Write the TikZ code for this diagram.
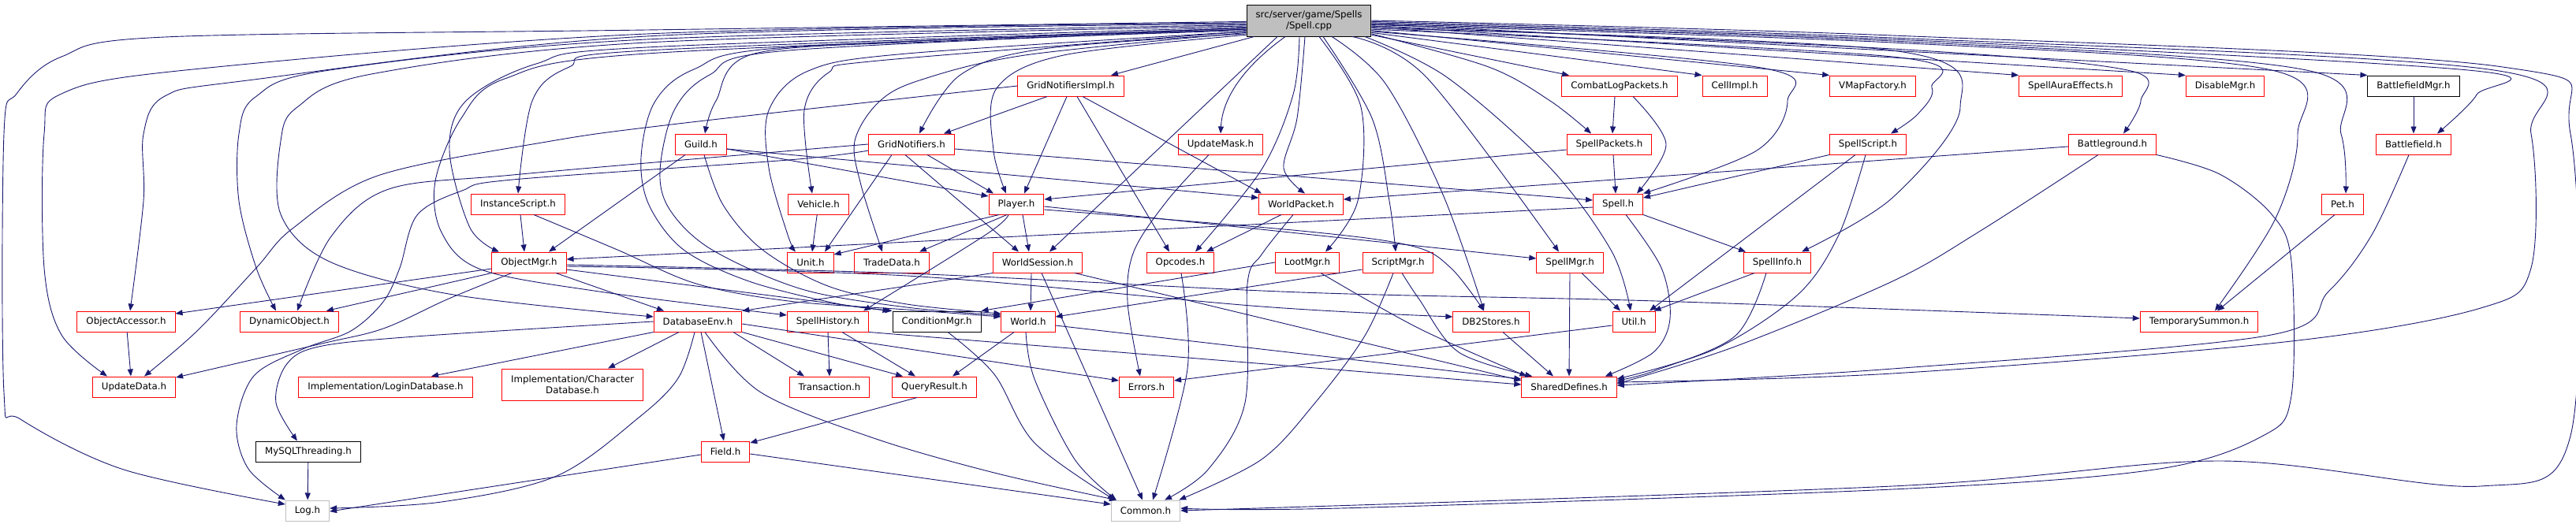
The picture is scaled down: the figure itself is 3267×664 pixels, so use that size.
\documentclass[tikz,border=0pt]{standalone}
\usepackage{fontspec}
\setmainfont{DejaVu Sans}
\usetikzlibrary{arrows.meta}
\definecolor{edgeblue}{RGB}{25,25,112}
\definecolor{rootgray}{RGB}{191,191,191}

\begin{document}
\begin{tikzpicture}[x=1pt, y=-1pt,
    hdr/.style={draw=red, fill=white, line width=1pt, minimum height=26pt, inner xsep=11.5pt, inner ysep=2pt, font=\fontsize{11.8}{14}\selectfont},
    hdrok/.style={hdr, draw=black},
    hdrsys/.style={hdr, draw=rootgray},
    hdrroot/.style={hdr, draw=black, fill=rootgray, align=center, minimum height=40pt},
    incl/.style={draw=edgeblue, line width=0.9pt, -{Triangle[length=9pt,width=7pt]}},
    sm/.style={smooth, tension=.55}]
    \useasboundingbox (0,0) rectangle (3267,664);

    \node[hdrroot] (SpellCpp) at (1660,26) {src/server/game/Spells\\/Spell.cpp};

    \node[hdr] (GridNotifiersImpl) at (1358,109) {GridNotifiersImpl.h};
    \node[hdr] (CombatLogPackets) at (2054,109) {CombatLogPackets.h};
    \node[hdr] (CellImpl) at (2200,109) {CellImpl.h};
    \node[hdr] (VMapFactory) at (2375,109) {VMapFactory.h};
    \node[hdr] (SpellAuraEffects) at (2626,109) {SpellAuraEffects.h};
    \node[hdr] (DisableMgr) at (2822,109) {DisableMgr.h};
    \node[hdrok] (BattlefieldMgr) at (3061,109) {BattlefieldMgr.h};

    \node[hdr] (Guild) at (889,183) {Guild.h};
    \node[hdr] (GridNotifiers) at (1156,183) {GridNotifiers.h};
    \node[hdr] (UpdateMask) at (1548,183) {UpdateMask.h};
    \node[hdr] (SpellPackets) at (2041,183) {SpellPackets.h};
    \node[hdr] (SpellScript) at (2369,183) {SpellScript.h};
    \node[hdr] (Battleground) at (2679,183) {Battleground.h};
    \node[hdr] (Battlefield) at (3061,183) {Battlefield.h};

    \node[hdr] (InstanceScript) at (657,259) {InstanceScript.h};
    \node[hdr] (Vehicle) at (1038,259) {Vehicle.h};
    \node[hdr] (Player) at (1289,259) {Player.h};
    \node[hdr] (WorldPacket) at (1650,259) {WorldPacket.h};
    \node[hdr] (SpellH) at (2052,259) {Spell.h};
    \node[hdr] (Pet) at (2971,259) {Pet.h};

    \node[hdr] (ObjectMgr) at (671,333) {ObjectMgr.h};
    \node[hdr] (Unit) at (1028,333) {Unit.h};
    \node[hdr] (TradeData) at (1131,333) {TradeData.h};
    \node[hdr] (WorldSession) at (1316,333) {WorldSession.h};
    \node[hdr] (Opcodes) at (1497,333) {Opcodes.h};
    \node[hdr] (LootMgr) at (1658,333) {LootMgr.h};
    \node[hdr] (ScriptMgr) at (1773,333) {ScriptMgr.h};
    \node[hdr] (SpellMgr) at (1991,333) {SpellMgr.h};
    \node[hdr] (SpellInfo) at (2254,333) {SpellInfo.h};

    \node[hdr] (ObjectAccessor) at (160,408) {ObjectAccessor.h};
    \node[hdr] (DynamicObject) at (367,408) {DynamicObject.h};
    \node[hdr] (DatabaseEnv) at (885,408) {DatabaseEnv.h};
    \node[hdr] (SpellHistory) at (1050,408) {SpellHistory.h};
    \node[hdrok] (ConditionMgr) at (1188,408) {ConditionMgr.h};
    \node[hdr] (World) at (1304,408) {World.h};
    \node[hdr] (DBStores) at (1891,408) {DB2Stores.h};
    \node[hdr] (Util) at (2072,408) {Util.h};
    \node[hdr] (TemporarySummon) at (2789,408) {TemporarySummon.h};

    \node[hdr] (UpdateData) at (170,491) {UpdateData.h};
    \node[hdr] (LoginDatabase) at (489,491) {Implementation/LoginDatabase.h};
    \node[hdr, align=center, minimum height=40pt] (CharacterDatabase) at (726,488) {Implementation/Character\\Database.h};
    \node[hdr] (Transaction) at (1052,491) {Transaction.h};
    \node[hdr] (QueryResult) at (1185,491) {QueryResult.h};
    \node[hdr] (Errors) at (1454,491) {Errors.h};
    \node[hdr] (SharedDefines) at (1990,491) {SharedDefines.h};

    \node[hdrok] (MySQLThreading) at (391,573) {MySQLThreading.h};
    \node[hdr] (Field) at (920,573) {Field.h};

    \node[hdrsys] (Log) at (390,648) {Log.h};
    \node[hdrsys] (Common) at (1453,648) {Common.h};

    % Spell.cpp, left side
    \draw[incl] plot[sm] coordinates {(SpellCpp.181) (820,38) (209,47) (78,72) (21,119) (5,170) (5,498) (26,532) (157,596) ([yshift=8pt]Log.west)};
    \draw[incl] plot[sm] coordinates {(SpellCpp.182) (820,43) (235,89) (78,119) (56,170) (56,340) (78,425) ([xshift=-34pt]UpdateData.north)};
    \draw[incl] plot[sm] coordinates {(SpellCpp.183) (820,46) (314,102) (209,122) (182,170) (182,255) ([xshift=5pt]ObjectAccessor.north)};
    \draw[incl] plot[sm] coordinates {(SpellCpp.184) (820,50) (418,89) (324,123) (303,170) (303,255) (325,340) ([xshift=-17pt]DynamicObject.north)};
    \draw[incl] plot[sm] coordinates {(SpellCpp.185) (820,54) (471,94) (377,136) (356,179) (356,272) (418,332) (575,374) ([yshift=6pt]DatabaseEnv.west)};
    \draw[incl] plot[sm] coordinates {(SpellCpp.186) (820,60) (680,81) (591,128) (570,191) (596,289) ([xshift=-38pt]ObjectMgr.north)};
    \draw[incl] plot[sm] coordinates {(SpellCpp.187) (820,64) (722,85) (675,128) (InstanceScript.north)};
    \draw[incl] plot[sm] coordinates {(SpellCpp.187) (820,68) (640,100) (585,150) (552,230) (560,295) (610,342) (760,370) ([yshift=8pt]SpellHistory.west)};
    \draw[incl] plot[sm] coordinates {(SpellCpp.188) (1000,60) (880,88) (830,130) (813,200) (823,260) (867,317) (950,357) (1060,385) (ConditionMgr.north west)};
    \draw[incl] plot[sm] coordinates {(SpellCpp.188) (1000,64) (900,95) (855,140) (837,217) (850,267) (903,317) (1017,367) (1150,390) ([yshift=8pt]World.west)};
    \draw[incl] plot[sm] coordinates {(SpellCpp.189) (1200,52) (957,68) (908,128) ([xshift=5pt]Guild.north)};
    \draw[incl] plot[sm] coordinates {(SpellCpp.190) (1114,77) (1051,92) (1020,140) ([xshift=-8pt]Vehicle.north)};
    \draw[incl] plot[sm] coordinates {(SpellCpp.190) (1150,68) (1025,90) (975,140) (975,213) (999,298) ([xshift=-19pt]Unit.north)};
    \draw[incl] plot[sm] coordinates {(SpellCpp.191) (1300,70) (1166,102) (1114,130) (1084,179) (1092,235) ([xshift=-12pt]TradeData.north)};
    \draw[incl] plot[sm] coordinates {(SpellCpp.192) (1323,62) (1218,95) ([xshift=10pt]GridNotifiers.north)};
    \draw[incl] plot[sm] coordinates {(SpellCpp.193) (1349,70) (1264,112) (1260,191) ([xshift=-13pt]Player.north)};

    % Spell.cpp, below
    \draw[incl] ([xshift=10pt]SpellCpp.south west) -- ([xshift=51pt]GridNotifiersImpl.north);
    \draw[incl] ([xshift=-40pt]SpellCpp.south) -- ([xshift=15pt]WorldSession.north);
    \draw[incl] ([xshift=-30pt]SpellCpp.south) .. controls (1570,90) and (1550,130) .. (UpdateMask.north);
    \draw[incl] plot[sm] coordinates {([xshift=-12pt]SpellCpp.south) (1640,120) (1600,215) ([xshift=19pt]Opcodes.north)};
    \draw[incl] plot[sm] coordinates {([xshift=-5pt]SpellCpp.south) (1645,150) (1628,213) ([xshift=5pt]WorldPacket.north)};
    \draw[incl] plot[sm] coordinates {([xshift=13pt]SpellCpp.south) (1726,136) (1722,255) ([xshift=23pt]LootMgr.north)};
    \draw[incl] plot[sm] coordinates {([xshift=18pt]SpellCpp.south) (1740,150) (1762,255) ([xshift=-3pt]ScriptMgr.north)};
    \draw[incl] plot[sm] coordinates {([xshift=29pt]SpellCpp.south) (1757,106) (1830,247) ([xshift=-9pt]DBStores.north)};
    \draw[incl] plot[sm] coordinates {([xshift=55pt]SpellCpp.south) (1809,98) ([xshift=-14pt]SpellMgr.north)};
    \draw[incl] plot[sm] coordinates {([xshift=71pt]SpellCpp.south) (1835,98) (1966,213) (2044,319) ([xshift=-4pt]Util.north)};

    % Spell.cpp, right side
    \draw[incl] (SpellCpp.347) -- ([xshift=-64pt]CombatLogPackets.north);
    \draw[incl] (SpellCpp.349) -- (CellImpl.north west);
    \draw[incl] (SpellCpp.351) -- (VMapFactory.north west);
    \draw[incl] (SpellCpp.354) -- (SpellAuraEffects.north west);
    \draw[incl] (SpellCpp.355) -- (DisableMgr.north west);
    \draw[incl] (SpellCpp.357) -- (BattlefieldMgr.north west);
    \draw[incl] plot[sm] coordinates {(SpellCpp.348) (1888,85) (1966,128) ([xshift=-23pt]SpellPackets.north)};
    \draw[incl] plot[sm] coordinates {(SpellCpp.350) (2228,85) (2267,128) (2228,191) (SpellH.north east)};
    \draw[incl] plot[sm] coordinates {(SpellCpp.352) (2400,72) (2450,111) (2432,145) ([xshift=29pt]SpellScript.north)};
    \draw[incl] plot[sm] coordinates {(SpellCpp.353) (2400,64) (2486,136) (2400,251) ([xshift=31pt]SpellInfo.north)};
    \draw[incl] plot[sm] coordinates {(SpellCpp.355) (2400,62) (2698,89) (2715,128) ([xshift=14pt]Battleground.north)};
    \draw[incl] plot[sm] coordinates {(SpellCpp.356) (2400,54) (2881,89) (2914,170) (2886,277) ([xshift=20pt]TemporarySummon.north)};
    \draw[incl] plot[sm] coordinates {(SpellCpp.357) (2400,52) (2925,89) (2969,170) ([xshift=4pt]Pet.north)};
    \draw[incl] plot[sm] coordinates {(SpellCpp.358) (2400,50) (3130,89) (3141,120) ([xshift=30pt]Battlefield.north)};
    \draw[incl] plot[sm] coordinates {(SpellCpp.359) (2400,48) (3163,89) (3210,170) (3210,340) (3146,391) (2897,434) (2400,474) ([yshift=6pt]SharedDefines.east)};
    \draw[incl] plot[sm] coordinates {(SpellCpp.east) (2400,45) (3174,85) (3260,170) (3260,553) (3146,617) (2815,585) (2400,617) (Common.east)};

    % GridNotifiersImpl.h, GridNotifiers.h, Guild.h
    \draw[incl] ([xshift=-30pt]GridNotifiersImpl.south) -- ([xshift=41pt]GridNotifiers.north);
    \draw[incl] ([xshift=-5pt]GridNotifiersImpl.south) -- ([xshift=10pt]Player.north);
    \draw[incl] ([xshift=8pt]GridNotifiersImpl.south) -- ([xshift=-14pt]Opcodes.north);
    \draw[incl] ([xshift=15pt]GridNotifiersImpl.south) -- ([xshift=-50pt]WorldPacket.north);
    \draw[incl] plot[sm] coordinates {(GridNotifiersImpl.west) (860,157) (693,180) (479,223) (371,290) (325,340) (250,420) ([xshift=13pt]UpdateData.north)};
    \draw[incl] ([xshift=20pt]GridNotifiers.south) -- ([xshift=-29pt]Player.north);
    \draw[incl] ([xshift=-25pt]GridNotifiers.south) -- ([xshift=18pt]Unit.north);
    \draw[incl] ([xshift=-8pt]GridNotifiers.south) -- ([xshift=-24pt]WorldSession.north);
    \draw[incl] ([yshift=-6pt]GridNotifiers.east) -- ([yshift=5pt]SpellH.west);
    \draw[incl] plot[sm] coordinates {(GridNotifiers.west) (983,193) (650,222) (493,240) (420,300) ([xshift=10pt]DynamicObject.north)};
    \draw[incl] plot[sm] coordinates {([yshift=-8pt]GridNotifiers.west) (1000,203) (650,228) (586,242) (529,273) (507,340) (486,383) (445,420) (384,443) (322,477) (300,540) (315,595) (Log.north west)};
    \draw[incl] ([yshift=-6pt]Guild.east) -- ([yshift=10pt]Player.west);
    \draw[incl] ([yshift=-6pt]Guild.east) -- ([yshift=8pt]WorldPacket.west);
    \draw[incl] ([xshift=-20pt]Guild.south) -- ([xshift=25pt]ObjectMgr.north);
    \draw[incl] plot[sm] coordinates {([xshift=4pt]Guild.south) (917,260) (967,317) (1050,363) (1150,386) ([yshift=10pt]World.west)};

    % Player.h, WorldSession.h, Vehicle.h, InstanceScript.h
    \draw[incl] ([xshift=-22pt]Player.south) -- ([yshift=10pt]Unit.east);
    \draw[incl] ([xshift=-12pt]Player.south) -- ([xshift=35pt]TradeData.north);
    \draw[incl] ([xshift=8pt]Player.south) -- ([xshift=-11pt]WorldSession.north);
    \draw[incl] plot[sm] coordinates {([xshift=-10pt]Player.south) (1250,298) ([xshift=45pt]SpellHistory.north)};
    \draw[incl] ([yshift=-3pt]Player.east) -- ([yshift=5pt]SpellMgr.west);
    \draw[incl] plot[sm] coordinates {([yshift=-7pt]Player.east) (1650,293) (1790,312) (1840,340) ([xshift=-9pt]DBStores.north)};
    \draw[incl] (WorldSession.south west) -- (DatabaseEnv.north east);
    \draw[incl] ([xshift=-8pt]WorldSession.south) -- ([xshift=3pt]World.north);
    \draw[incl] plot[sm] coordinates {([xshift=5pt]WorldSession.south) (1375,468) ([xshift=-4pt]Common.north)};
    \draw[incl] ([xshift=-10pt]WorldSession.south east) -- ([yshift=8pt]SharedDefines.west);
    \draw[incl] (Vehicle) -- ([xshift=2pt]Unit.north);
    \draw[incl] ([xshift=3pt]InstanceScript.south) -- ([xshift=-6pt]ObjectMgr.north);
    \draw[incl] plot[sm] coordinates {([xshift=20pt]InstanceScript.south) (783,317) (883,360) (1000,382) (1150,393) ([yshift=6pt]World.west)};

    % ObjectMgr.h
    \draw[incl] ([yshift=-8pt]ObjectMgr.west) -- ([yshift=10pt]ObjectAccessor.east);
    \draw[incl] (ObjectMgr.south west) -- ([xshift=-16pt]DynamicObject.north east);
    \draw[incl] plot[sm] coordinates {([xshift=-22pt]ObjectMgr.south) (567,380) (486,417) (404,437) ([yshift=12pt]UpdateData.east)};
    \draw[incl] ([xshift=34pt]ObjectMgr.south) -- ([xshift=-43pt]DatabaseEnv.north);
    \draw[incl] ([yshift=-9pt]ObjectMgr.east) -- ([xshift=-3pt]ConditionMgr.north west);
    \draw[incl] plot[sm] coordinates {([yshift=-5pt]ObjectMgr.east) (1150,350) (1600,389) ([yshift=6pt]DBStores.west)};
    \draw[incl] plot[sm] coordinates {([yshift=-3pt]ObjectMgr.east) (1150,347) (1650,371) (2100,382) ([yshift=4pt]TemporarySummon.west)};
    \draw[incl] (ObjectAccessor) -- ([xshift=-4pt]UpdateData.north);

    % DatabaseEnv.h and below
    \draw[incl] plot[sm] coordinates {([xshift=-4pt]DatabaseEnv.south) (860,480) (810,530) (706,604) (560,637) ([yshift=3pt]Log.east)};
    \draw[incl] plot[sm] coordinates {(DatabaseEnv.west) (527,427) (404,440) (363,463) (350,511) ([xshift=-14pt]MySQLThreading.north)};
    \draw[incl] (DatabaseEnv.south west) -- ([xshift=58pt]LoginDatabase.north);
    \draw[incl] ([xshift=-24pt]DatabaseEnv.south) -- ([xshift=45pt]CharacterDatabase.north);
    \draw[incl] ([xshift=4pt]DatabaseEnv.south) -- ([xshift=-2pt]Field.north);
    \draw[incl] plot[sm] coordinates {([xshift=9pt]DatabaseEnv.south) (965,498) (1108,556) (1261,600) ([xshift=7pt]Common.north west)};
    \draw[incl] ([xshift=45pt]DatabaseEnv.south) -- ([xshift=-32pt]Transaction.north);
    \draw[incl] (DatabaseEnv.south east) -- ([xshift=-40pt]QueryResult.north);
    \draw[incl] ([yshift=-3pt]DatabaseEnv.east) -- ([yshift=8pt]Errors.west);
    \draw[incl] (SpellHistory.south) -- (Transaction.north);
    \draw[incl] ([xshift=18pt]SpellHistory.south) -- ([xshift=-24pt]QueryResult.north);
    \draw[incl] (SpellHistory.south east) -- ([yshift=3pt]SharedDefines.west);
    \draw[incl] ([xshift=-18pt]World.south) -- ([xshift=23pt]QueryResult.north);
    \draw[incl] plot[sm] coordinates {([xshift=-3pt]World.south) (1312,481) (1363,583) ([xshift=7pt]Common.north west)};
    \draw[incl] ([yshift=-5pt]World.east) -- ([yshift=10pt]SharedDefines.west);
    \draw[incl] plot[sm] coordinates {([xshift=14pt]ConditionMgr.south) (1261,475) (1312,562) ([xshift=5pt]Common.north west)};
    \draw[incl] ([xshift=-22pt]QueryResult.south) -- ([yshift=11pt]Field.east);
    \draw[incl] ([yshift=-4pt]Field.west) -- ([yshift=-1pt]Log.east);
    \draw[incl] ([yshift=-3pt]Field.east) -- ([yshift=8pt]Common.west);
    \draw[incl] (MySQLThreading) -- (Log);

    % UpdateMask.h, Opcodes.h, WorldPacket.h
    \draw[incl] plot[sm] coordinates {([xshift=-15pt]UpdateMask.south) (1480,255) (1438,319) (1430,383) ([xshift=-8pt]Errors.north)};
    \draw[incl] plot[sm] coordinates {([xshift=1pt]Opcodes.south) (1506,468) ([xshift=9pt]Common.north)};
    \draw[incl] ([xshift=-25pt]WorldPacket.south) -- ([xshift=33pt]Opcodes.north);
    \draw[incl] plot[sm] coordinates {([xshift=-10pt]WorldPacket.south) (1600,323) (1582,360) (1579,511) (1532,596) ([xshift=24pt]Common.north)};

    % Spell.h and the packets
    \draw[incl] ([yshift=-4pt]SpellH.west) -- ([yshift=4pt]ObjectMgr.east);
    \draw[incl] (SpellH.south east) -- ([xshift=-40pt]SpellInfo.north);
    \draw[incl] plot[sm] coordinates {([xshift=10pt]SpellH.south) (2107,340) (2118,404) (2097,447) ([xshift=-15pt]SharedDefines.north east)};
    \draw[incl] ([xshift=5pt]SpellPackets.south) -- ([xshift=-3pt]SpellH.north);
    \draw[incl] ([yshift=-7pt]SpellPackets.west) -- ([yshift=6pt]Player.east);
    \draw[incl] ([xshift=-6pt]CombatLogPackets.south) -- ([xshift=4pt]SpellPackets.north);
    \draw[incl] plot[sm] coordinates {([xshift=17pt]CombatLogPackets.south) (2113,183) ([xshift=24pt]SpellH.north)};
    \draw[incl] (SpellScript.south west) -- ([yshift=8pt]SpellH.east);
    \draw[incl] ([xshift=-16pt]SpellScript.south) -- ([xshift=20pt]Util.north);
    \draw[incl] plot[sm] coordinates {([xshift=-3pt]SpellScript.south) (2332,298) (2280,374) (2175,443) ([yshift=10pt]SharedDefines.east)};
    \draw[incl] ([xshift=-29pt]SpellInfo.south) -- ([xshift=-2pt]Util.north east);
    \draw[incl] plot[sm] coordinates {([xshift=-14pt]SpellInfo.south) (2201,426) (2100,470) ([yshift=8pt]SharedDefines.east)};

    % battlegrounds, pets
    \draw[incl] ([yshift=-3pt]Battleground.west) -- ([yshift=6pt]WorldPacket.east);
    \draw[incl] plot[sm] coordinates {([xshift=-18pt]Battleground.south) (2510,294) (2400,357) (2200,440) ([yshift=4pt]SharedDefines.east)};
    \draw[incl] plot[sm] coordinates {(Battleground.south east) (2815,221) (2881,272) (2906,332) (2906,502) (2870,553) (2732,596) (2400,621) (1700,645) ([yshift=3pt]Common.east)};
    \draw[incl] (BattlefieldMgr) -- (Battlefield);
    \draw[incl] plot[sm] coordinates {([xshift=-6pt]Battlefield.south) (3008,298) (2953,370) (2875,426) (2400,468) ([yshift=2pt]SharedDefines.east)};
    \draw[incl] ([xshift=-10pt]Pet.south) -- ([xshift=23pt]TemporarySummon.north);

    % LootMgr.h, ScriptMgr.h, SpellMgr.h, DB2Stores.h, Util.h
    \draw[incl] plot[sm] coordinates {([xshift=17pt]LootMgr.south) (1800,417) ([xshift=7pt]SharedDefines.north west)};
    \draw[incl] (LootMgr.west) -- (ConditionMgr.north east);
    \draw[incl] ([yshift=-9pt]ScriptMgr.west) -- ([yshift=6pt]World.east);
    \draw[incl] plot[sm] coordinates {([xshift=-6pt]ScriptMgr.south) (1731,426) (1668,511) (1600,583) ([xshift=-2pt]Common.north east)};
    \draw[incl] plot[sm] coordinates {([xshift=5pt]ScriptMgr.south) (1800,380) (1850,447) ([xshift=14pt]SharedDefines.north west)};
    \draw[incl] ([xshift=15pt]SpellMgr.south) -- ([xshift=-17pt]Util.north);
    \draw[incl] (SpellMgr.south) -- (SharedDefines.north);
    \draw[incl] ([xshift=15pt]DBStores.south) -- ([xshift=-20pt]SharedDefines.north);
    \draw[incl] ([yshift=-5pt]Util.west) -- ([yshift=8pt]Errors.east);
\end{tikzpicture}
\end{document}
